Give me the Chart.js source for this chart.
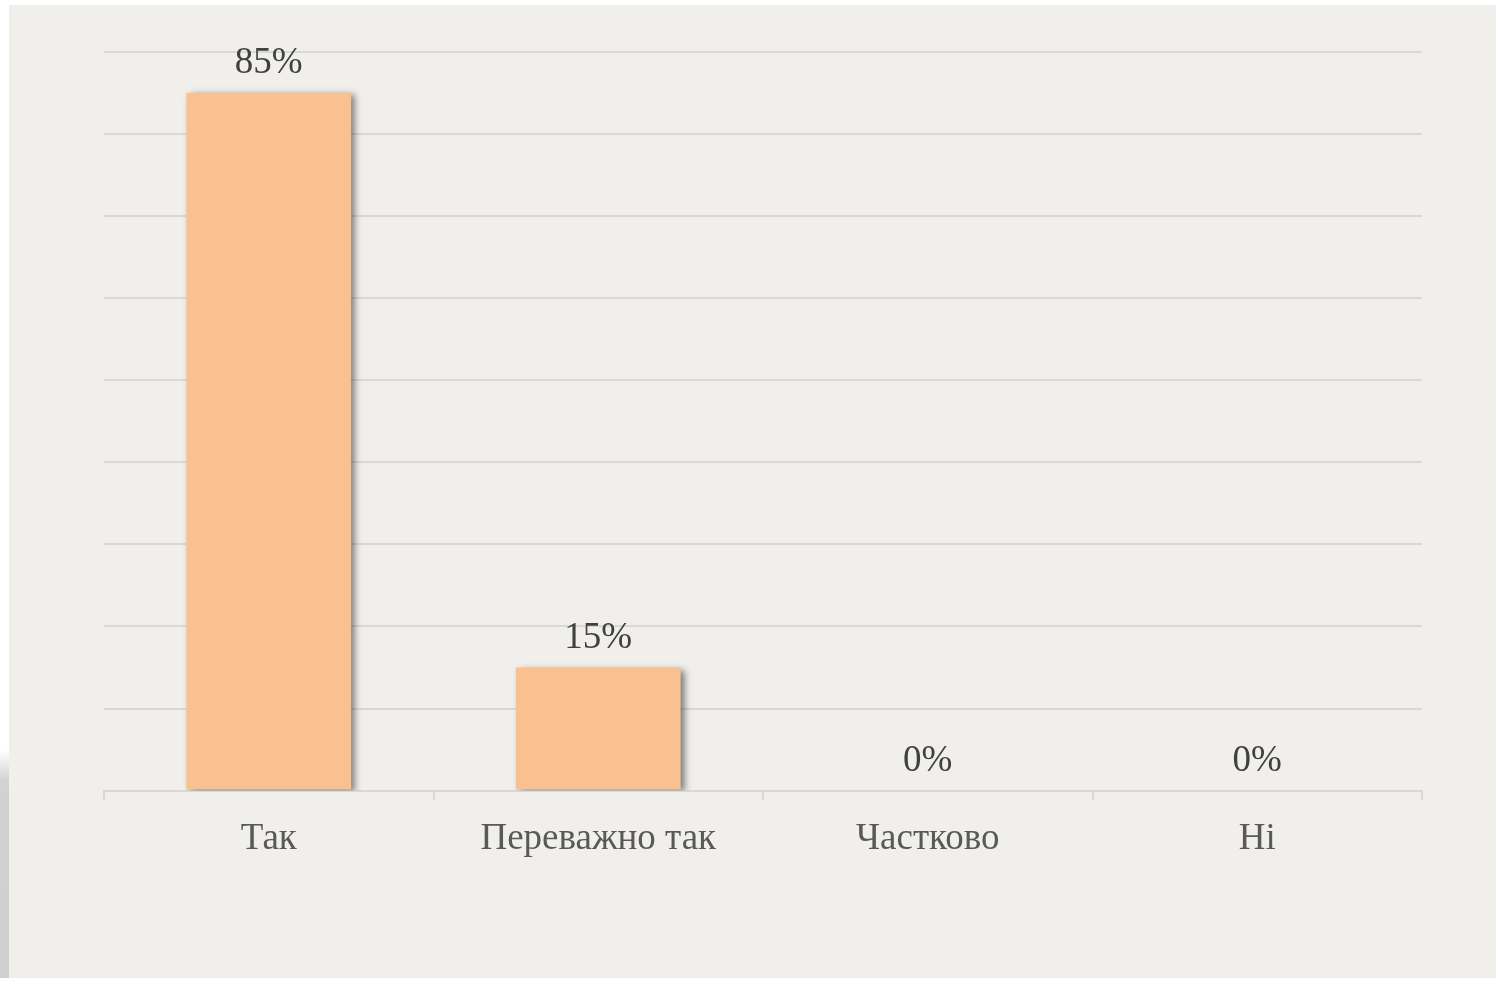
<!DOCTYPE html>
<html>
<head>
<meta charset="utf-8">
<script src="https://cdn.jsdelivr.net/npm/chart.js@4.4.0/dist/chart.umd.min.js"></script>
<style>
    html, body { margin: 0; padding: 0; background: #ffffff; }
    #frame {
        position: absolute; left: 9px; top: 5px; width: 1487px; height: 973px;
        background: #f0efec;
    }
    #edge {
        position: absolute; left: 0; top: 750px; width: 9px; height: 228px;
        background: linear-gradient(to bottom, #ffffff, #d2d2d2 30px, #cfcfcf);
    }
</style>
</head>
<body>
<div id="edge"></div>
<div id="frame"><canvas id="myChart" width="1487" height="973"></canvas></div>
<script>
    // 데이터
    const categories = ["Так", "Переважно так", "Частково", "Ні"];
    const values = [85, 15, 0, 0];

    // 막대 그림자
    const barShadow = {
        id: "barShadow",
        beforeDatasetsDraw(chart) {
            const ctx = chart.ctx;
            ctx.save();
            ctx.shadowColor = "rgba(0,0,0,0.5)";
            ctx.shadowBlur = 7;
            ctx.shadowOffsetX = 4;
            ctx.shadowOffsetY = 2;
        },
        afterDatasetsDraw(chart) {
            chart.ctx.restore();
        }
    };

    // 값 라벨
    const valueLabels = {
        id: "valueLabels",
        afterDraw(chart) {
            const ctx = chart.ctx;
            const meta = chart.getDatasetMeta(0);
            ctx.save();
            ctx.font = "37px 'Liberation Serif'";
            ctx.fillStyle = "#404040";
            ctx.textAlign = "center";
            ctx.textBaseline = "alphabetic";
            meta.data.forEach(function (bar, i) {
                ctx.fillText(values[i] + "%", bar.x, bar.y - 20);
            });
            ctx.restore();
        }
    };

    new Chart(document.getElementById("myChart").getContext("2d"), {
        type: "bar",
        data: {
            labels: categories,
            datasets: [{
                data: values,
                backgroundColor: "#f9c190",
                borderWidth: 0,
                categoryPercentage: 1,
                barPercentage: 0.5
            }]
        },
        options: {
            responsive: false,
            animation: false,
            layout: { padding: { left: 95, right: 74, top: 47, bottom: 101 } },
            plugins: { legend: { display: false }, tooltip: { enabled: false } },
            scales: {
                x: {
                    grid: { drawOnChartArea: false, offset: true, tickLength: 10, color: "#d9d8d5", lineWidth: 2 },
                    border: { color: "#d9d8d5", width: 2 },
                    ticks: {
                        color: "#595959",
                        padding: 16,
                        font: { family: "'Liberation Serif'", size: 37 }
                    }
                },
                y: {
                    min: 0,
                    max: 90,
                    ticks: { display: false, stepSize: 10 },
                    grid: { drawTicks: false, color: "#d9d8d5", lineWidth: 2 },
                    border: { display: false }
                }
            }
        },
        plugins: [barShadow, valueLabels]
    });
</script>
</body>
</html>
